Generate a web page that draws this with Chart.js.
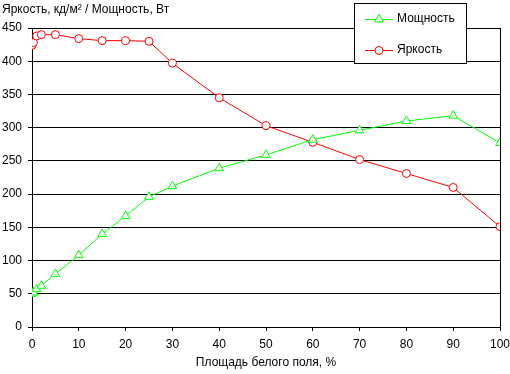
<!DOCTYPE html>
<html><head><meta charset="utf-8">
<script src="https://cdn.jsdelivr.net/npm/chart.js@4"></script>
<style>html,body{margin:0;padding:0;background:#fff}#w{width:510px;height:374px;position:relative}</style>
</head><body><div id="w"><canvas id="c" width="510" height="374"></canvas></div>
<script>
const xValues = [0, 0.3, 1, 2, 5, 10, 15, 20, 25, 30, 40, 50, 60, 70, 80, 90, 100];
const powerValues = [50, 52, 57, 62, 80, 108, 140, 167, 196, 212, 239, 259, 282, 296, 310, 318, 277];
const brightValues = [424, 428, 438, 440, 440, 434, 431, 431, 430, 397, 345, 303, 278, 252, 231, 210, 151];
const seriesNames = ['Мощность', 'Яркость'];
const yTitle = 'Яркость, кд/м² / Мощность, Вт';
const xTitle = 'Площадь белого поля, %';
const FONT = "'Liberation Sans', Arial, sans-serif";

const pts = v => xValues.map((x, i) => ({x: x, y: v[i]}));

const extras = {
  id: 'extras',
  afterDraw(chart) {
    const ctx = chart.ctx, a = chart.chartArea;
    ctx.save();
    ctx.strokeStyle = '#000'; ctx.lineWidth = 1;
    ctx.beginPath();
    ctx.moveTo(Math.round(a.right) + 0.5, a.top); ctx.lineTo(Math.round(a.right) + 0.5, a.bottom);
    ctx.stroke();
    // y title
    ctx.fillStyle = '#000'; ctx.font = '12px ' + FONT;
    ctx.textAlign = 'left'; ctx.textBaseline = 'middle';
    ctx.fillText(yTitle, 2, 10);
    // legend
    ctx.fillStyle = '#fff';
    ctx.fillRect(354, 3, 113, 61);
    ctx.strokeStyle = '#000';
    ctx.strokeRect(354.5, 3.5, 112, 60);
    const items = [[0, 19], [1, 50]];
    items.forEach(([i, y]) => {
      const ds = chart.data.datasets[i];
      ctx.strokeStyle = ds.borderColor; ctx.lineWidth = 1;
      ctx.beginPath(); ctx.moveTo(365, y + 0.5); ctx.lineTo(393, y + 0.5); ctx.stroke();
      ctx.fillStyle = '#fff'; ctx.strokeStyle = ds.borderColor;
      Chart.helpers.drawPoint(ctx, {pointStyle: ds.pointStyle, radius: ds.pointRadius, borderWidth: 1}, 379, y + 0.5);
      ctx.fillStyle = '#000'; ctx.font = '12px ' + FONT;
      ctx.textAlign = 'left'; ctx.textBaseline = 'middle';
      ctx.fillText(ds.label, 397, y);
    });
    ctx.restore();
  }
};

new Chart(document.getElementById('c'), {
  type: 'scatter',
  data: {
    datasets: [
      {label: seriesNames[0], data: pts(powerValues), showLine: true, borderColor: '#00ff00', backgroundColor: '#fff',
       borderWidth: 1, pointStyle: 'triangle', pointRadius: 5, pointBorderWidth: 1},
      {label: seriesNames[1], data: pts(brightValues), showLine: true, borderColor: '#ff0000', backgroundColor: '#fff',
       borderWidth: 1, pointStyle: 'circle', pointRadius: 4, pointBorderWidth: 1}
    ]
  },
  options: {
    responsive: false, animation: false,
    layout: {padding: {top: 28, right: 10, left: 0, bottom: 0}},
    plugins: {legend: {display: false}, tooltip: {enabled: false}},
    scales: {
      x: {
        type: 'linear', min: 0, max: 100,
        ticks: {stepSize: 10, color: '#000', font: {family: FONT, size: 12}, padding: 6, maxRotation: 0},
        grid: {drawOnChartArea: false, drawTicks: true, tickLength: 4, color: '#000'},
        border: {color: '#000'},
        title: {display: true, text: xTitle, color: '#000', font: {family: FONT, size: 12}, padding: {top: 1}},
        afterFit(s) { s.height = 47; s.paddingLeft = 0; s.paddingRight = 0; }
      },
      y: {
        min: 0, max: 450,
        ticks: {stepSize: 50, color: '#000', font: {family: FONT, size: 12}, padding: 6},
        grid: {color: '#000', tickLength: 4},
        border: {color: '#000'},
        afterFit(s) { s.width = 32; s.paddingTop = 0; s.paddingBottom = 0; }
      }
    }
  },
  plugins: [extras]
});
</script></body></html>
